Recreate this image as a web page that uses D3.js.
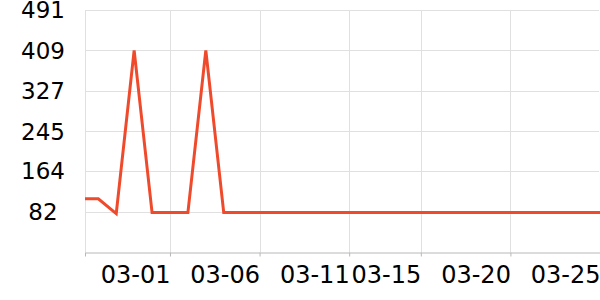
<!DOCTYPE html>
<html>
<head>
<meta charset="utf-8">
<script src="https://cdn.jsdelivr.net/npm/d3@7"></script>
<style>
  body { margin: 0; background: #fff; }
  svg { display: block; font-family: "DejaVu Sans", sans-serif; }
</style>
</head>
<body>
<div id="chart"></div>
<script>
// data
var dates = [
  "2020-02-25T06:10", "2020-02-26", "2020-02-27", "2020-02-28", "2020-02-29",
  "2020-03-01", "2020-03-02", "2020-03-03", "2020-03-04", "2020-03-05",
  "2020-03-06", "2020-03-07", "2020-03-08", "2020-03-09", "2020-03-10",
  "2020-03-11", "2020-03-12", "2020-03-13", "2020-03-14", "2020-03-15",
  "2020-03-16", "2020-03-17", "2020-03-18", "2020-03-19", "2020-03-20",
  "2020-03-21", "2020-03-22", "2020-03-23", "2020-03-24", "2020-03-25"
];
var values = [
  108, 108, 78, 409, 80,
  80, 80, 409, 80, 80,
  80, 80, 80, 80, 80,
  80, 80, 80, 80, 80,
  80, 80, 80, 80, 80,
  80, 80, 80, 80, 80
];
var yTicks = [82, 164, 245, 327, 409, 491];
var xTickDates = ["2020-03-01", "2020-03-06", "2020-03-11", "2020-03-15", "2020-03-20", "2020-03-25"];

var width = 600,
  height = 300;
var margin = { top: 10, right: 0, bottom: 48, left: 85 };

var parse = d3.isoParse;
var data = dates.map(function (d, i) {
  return { date: parse(d), value: values[i] };
});

var svg = d3
  .select("#chart")
  .append("svg")
  .attr("width", width)
  .attr("height", height);

var x = d3
  .scaleTime()
  .domain([data[0].date, data[data.length - 1].date])
  .range([margin.left, width - margin.right]);

var y = d3
  .scaleLinear()
  .domain([0, 491])
  .range([height - margin.bottom, margin.top]);

var xTicks = xTickDates.map(parse);

// horizontal grid
svg
  .append("g")
  .selectAll("line")
  .data(yTicks)
  .join("line")
  .attr("x1", margin.left)
  .attr("x2", width - margin.right - 1)
  .attr("y1", function (d) { return Math.round(y(d)) + 0.5; })
  .attr("y2", function (d) { return Math.round(y(d)) + 0.5; })
  .attr("stroke", "#e0e0e0");

// vertical grid (left edge + ticks except the last one at the right edge)
var vGrid = [data[0].date].concat(xTicks.slice(0, -1));
svg
  .append("g")
  .selectAll("line")
  .data(vGrid)
  .join("line")
  .attr("x1", function (d) { return Math.round(x(d)) + 0.5; })
  .attr("x2", function (d) { return Math.round(x(d)) + 0.5; })
  .attr("y1", margin.top)
  .attr("y2", height - margin.bottom)
  .attr("stroke", "#e0e0e0");

// x axis
var xAxis = svg
  .append("g")
  .attr("transform", "translate(0," + (height - margin.bottom + 0.5) + ")")
  .call(
    d3.axisBottom(x)
      .tickValues([data[0].date].concat(xTicks))
      .tickSize(4)
      .tickSizeOuter(0)
      .tickFormat(function (d, i) { return i === 0 ? "" : d3.timeFormat("%m-%d")(d); })
  )
  .attr("font-family", "DejaVu Sans, sans-serif")
  .attr("font-size", 24);
xAxis.select(".domain").attr("stroke", "#b8b8b8");
xAxis.selectAll(".tick line").attr("stroke", "#b8b8b8");
xAxis
  .selectAll(".tick text")
  .attr("fill", "#000")
  .attr("text-anchor", "end")
  .attr("x", 0)
  .attr("y", 13)
  .attr("dy", "0.71em");

// y labels, centred in the left margin
svg
  .append("g")
  .selectAll("text")
  .data(yTicks)
  .join("text")
  .attr("x", 43)
  .attr("y", function (d) { return y(d); })
  .attr("dy", "0.36em")
  .attr("text-anchor", "middle")
  .attr("font-size", 23)
  .attr("fill", "#000")
  .text(function (d) { return d; });

// the line
var line = d3
  .line()
  .x(function (d) { return x(d.date); })
  .y(function (d) { return y(d.value); });

svg
  .append("path")
  .datum(data)
  .attr("fill", "none")
  .attr("stroke", "#ef4a2b")
  .attr("stroke-width", 3)
  .attr("stroke-linejoin", "miter")
  .attr("d", line);
</script>
</body>
</html>
